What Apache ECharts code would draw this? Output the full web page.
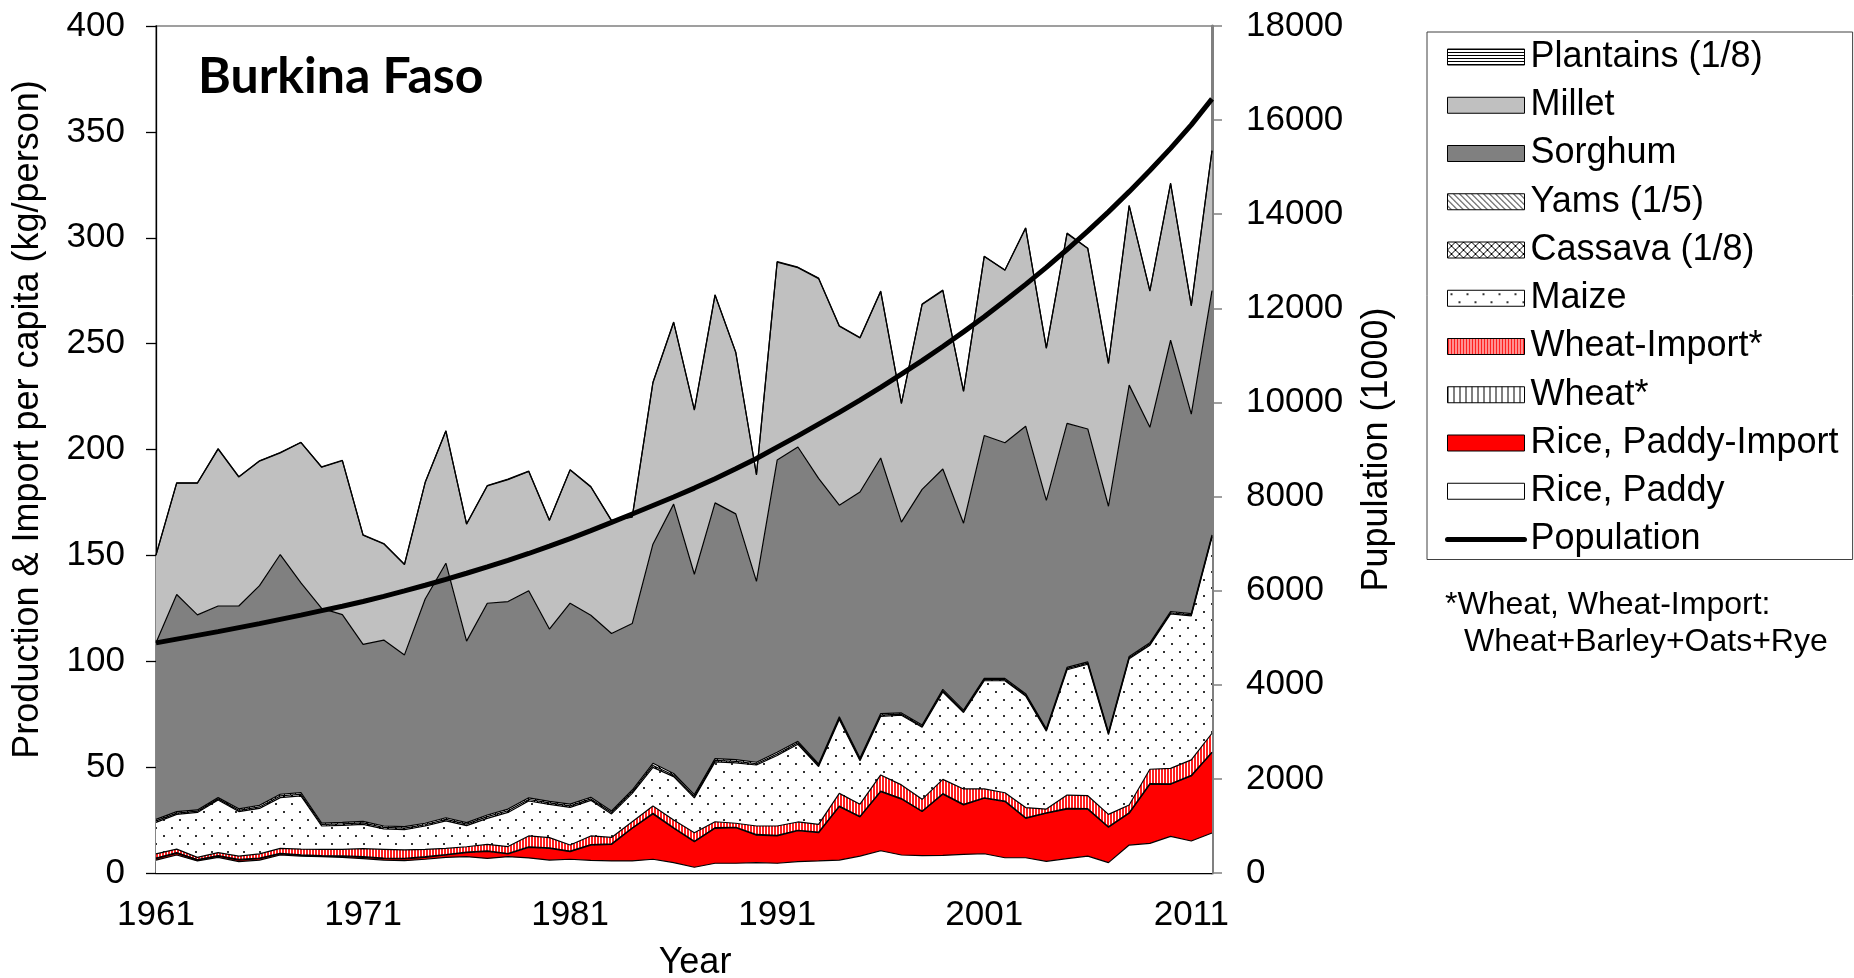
<!DOCTYPE html>
<html>
<head>
<meta charset="utf-8">
<script src="https://cdn.jsdelivr.net/npm/echarts@6/dist/echarts.min.js"></script>
<style>
html,body{margin:0;padding:0;background:#fff;}
#chart{width:1854px;height:978px;}
</style>
</head>
<body>
<div id="chart"></div>
<script>
const years = ['1961','1962','1963','1964','1965','1966','1967','1968','1969','1970',
'1971','1972','1973','1974','1975','1976','1977','1978','1979','1980',
'1981','1982','1983','1984','1985','1986','1987','1988','1989','1990',
'1991','1992','1993','1994','1995','1996','1997','1998','1999','2000',
'2001','2002','2003','2004','2005','2006','2007','2008','2009','2010',
'2011','2012'];

const ricePaddy = [6.1,8.5,5.7,7.4,5.4,6.1,8.5,8.0,7.7,7.4, 6.8,6.1,5.8,6.5,7.4,7.7,6.9,7.7,7.1,6.1,
6.5,6.0,5.7,5.7,6.5,4.9,2.7,4.6,4.6,4.9, 4.6,5.4,5.7,6.1,8.0,10.5,8.5,8.2,8.3,8.8,
9.1,7.2,7.2,5.5,6.8,8.0,4.9,13.2,14.0,17.3, 15.1,18.9];

const riceImport = [0.7,0.8,0.4,0.6,0.7,0.7,0.5,0.3,0.3,0.4, 0.6,0.7,0.8,0.9,1.1,1.9,3.3,1.3,5.0,5.5,
3.6,7.1,7.8,15.4,21.4,16.2,12.1,16.5,16.8,13.0, 12.9,14.6,13.3,25.2,18.5,27.9,26.4,20.8,28.9,23.3,
26.2,26.5,18.6,22.7,23.4,22.1,16.7,15.0,27.9,24.6, 30.7,37.9];

const wheat = [0.2,0.3,0.2,0.2,0.3,0.2,0.3,0.3,0.2,0.3, 0.3,0.2,0.3,0.3,0.2,0.3,0.3,0.2,0.3,0.3,
0.2,0.3,0.3,0.2,0.3,0.3,0.2,0.3,0.2,0.3, 0.3,0.2,0.3,0.3,0.2,0.3,0.3,0.2,0.3,0.3,
0.2,0.3,0.3,0.2,0.3,0.3,0.2,0.3,0.3,0.2, 0.3,0.3];

const wheatImport = [2.0,1.7,1.1,1.4,1.6,2.0,2.3,2.7,3.0,3.1, 3.8,4.2,4.0,3.5,2.9,2.5,3.0,3.3,5.1,4.8,
2.9,4.1,3.0,2.9,3.4,3.6,4.0,2.8,1.9,4.0, 4.4,3.9,3.7,6.0,5.8,7.6,6.4,5.6,6.7,7.3,
4.2,3.9,4.8,1.8,6.3,6.1,5.9,3.6,6.8,7.3, 7.3,8.9];

const maize = [14.9,16.4,21.2,24.9,21.0,21.5,24.0,25.1,11.0,11.3, 11.5,9.6,9.6,11.0,13.0,10.0,12.3,16.1,16.5,15.7,
17.8,16.8,11.1,13.4,18.3,20.5,16.5,28.3,28.5,28.8, 33.3,36.7,27.3,34.9,20.5,27.7,32.9,34.0,41.3,36.1,
51.1,52.9,52.7,36.8,59.2,62.1,37.7,69.1,58.6,73.0, 68.0,92.6];

const cassava = [0.7,0.6,0.6,0.5,0.6,0.7,0.8,0.8,0.7,0.7, 0.7,0.7,0.7,0.6,0.7,0.7,0.8,0.8,0.7,0.7,
0.7,0.7,0.7,0.8,0.9,0.7,0.7,0.7,0.7,0.6, 0.7,0.7,0.6,0.6,0.6,0.6,0.5,0.5,0.6,0.5,
0.5,0.5,0.5,0.5,0.5,0.5,0.5,0.5,0.5,0.5, 0.5,0.5];

const yams = [0.7,0.7,0.6,0.6,0.7,0.8,0.8,0.8,0.7,0.7, 0.7,0.7,0.7,0.7,0.8,0.7,0.8,0.8,0.8,0.7,
0.8,0.8,0.7,0.8,1.0,0.8,0.8,0.8,0.8,0.7, 0.8,0.7,0.6,0.7,0.7,0.7,0.6,0.6,0.6,0.6,
0.6,0.6,0.6,0.6,0.6,0.6,0.6,0.6,0.6,0.6, 0.6,0.6];

const sorghum = [83.4,102.5,92.1,90.5,95.8,103.7,113.2,99.0,101.4,98.1, 83.6,87.8,81.1,105.9,120.2,85.7,100.0,98.0,97.8,81.4,
94.9,85.9,83.8,78.6,103.5,127.2,104.1,120.8,116.1,85.4, 138.0,139.0,134.9,99.9,125.6,120.7,90.1,111.3,104.1,88.3,
114.7,111.3,126.3,107.9,115.2,110.0,106.7,128.1,101.8,128.1, 94.2,115.3];

const millet = [41.3,52.6,62.2,74.1,60.9,58.8,48.0,66.3,66.6,72.7, 51.5,45.4,42.6,55.0,62.4,55.2,55.4,57.6,56.3,51.3,
62.9,60.6,53.2,50.3,76.2,85.8,77.5,98.1,76.2,50.3, 93.5,84.7,94.3,84.5,72.8,78.6,56.0,87.3,84.2,62.2,
84.5,81.4,93.5,71.8,89.6,85.2,67.4,84.7,64.3,73.9, 51.1,66.0];

const plantains = [0.2,0.2,0.1,0.2,0.2,0.2,0.2,0.1,0.2,0.2, 0.2,0.2,0.2,0.1,0.2,0.2,0.2,0.2,0.2,0.2,
0.2,0.2,0.2,0.2,0.3,0.2,0.2,0.2,0.2,0.2, 0.2,0.2,0.3,0.2,0.2,0.2,0.2,0.2,0.3,0.2,
0.2,0.2,0.2,0.2,0.3,0.2,0.2,0.2,0.2,0.3, 0.2,0.2];

const population = [4890,4970,5050,5130,5215,5300,5390,5480,5575,5670,
5770,5880,5995,6115,6240,6370,6505,6645,6790,6945,
7105,7275,7450,7630,7810,7990,8180,8380,8590,8810,
9050,9290,9540,9790,10050,10320,10600,10890,11190,11500,
11820,12160,12510,12870,13250,13640,14050,14480,14930,15400,
15900,16450];

const leftTicks = {min:0, max:400, interval:50};
const rightTicks = {min:0, max:18000, interval:2000};

// ---- fill patterns (styles only) ----
function pat(w, h, draw) {
  const c = document.createElement('canvas');
  c.width = w; c.height = h;
  const g = c.getContext('2d');
  g.fillStyle = '#fff'; g.fillRect(0, 0, w, h);
  draw(g);
  return {image: c, repeat: 'repeat'};
}
const plantPat = pat(4, 3, g => { g.fillStyle = '#000'; g.fillRect(0, 0, 4, 1); });
const maizePat = pat(16, 16, g => { g.fillStyle = '#333'; g.fillRect(3, 3, 2, 2); g.fillRect(11, 11, 2, 2); });
const wheatImpPat = pat(3, 1, g => { g.fillStyle = '#ff2020'; g.fillRect(0, 0, 2, 1); });
const wheatPat = pat(6, 1, g => { g.fillStyle = '#000'; g.fillRect(0, 0, 1, 1); });
const yamsPat = pat(6, 6, g => { g.fillStyle = '#000'; for (let i = 0; i < 6; i++) g.fillRect(i, i, 1, 1); });
const cassPat = pat(8, 8, g => { g.fillStyle = '#000'; for (let i = 0; i < 8; i++) { g.fillRect(i, i, 1, 1); g.fillRect(7 - i, i, 1, 1); } });

const FONT = 'Liberation Sans, Arial, sans-serif';

const layers = [
  {name: 'Rice, Paddy', data: ricePaddy, fill: '#ffffff'},
  {name: 'Rice, Paddy-Import', data: riceImport, fill: '#ff0000'},
  {name: 'Wheat*', data: wheat, fill: wheatPat},
  {name: 'Wheat-Import*', data: wheatImport, fill: wheatImpPat},
  {name: 'Maize', data: maize, fill: maizePat},
  {name: 'Cassava (1/8)', data: cassava, fill: cassPat},
  {name: 'Yams (1/5)', data: yams, fill: yamsPat},
  {name: 'Sorghum', data: sorghum, fill: '#808080'},
  {name: 'Millet', data: millet, fill: '#c0c0c0'},
  {name: 'Plantains (1/8)', data: plantains, fill: plantPat}
];

const series = layers.map(l => ({
  name: l.name, type: 'line', stack: 'total', yAxisIndex: 0,
  data: l.data, symbol: 'none', showSymbol: false,
  lineStyle: {color: '#000', width: 1.2},
  areaStyle: {color: l.fill, opacity: 1},
  itemStyle: {color: l.fill},
  emphasis: {disabled: true}, z: 2
}));
series.push({
  name: 'Population', type: 'line', yAxisIndex: 1, data: population,
  symbol: 'none', showSymbol: false,
  lineStyle: {color: '#000', width: 5}, itemStyle: {color: '#000'},
  emphasis: {disabled: true}, z: 5
});

const legendOrder = ['Plantains (1/8)','Millet','Sorghum','Yams (1/5)','Cassava (1/8)','Maize','Wheat-Import*','Wheat*','Rice, Paddy-Import','Rice, Paddy'];
const legendData = legendOrder.map(n => {
  const l = layers.find(x => x.name === n);
  return {name: n, icon: 'rect', itemStyle: {color: l.fill, borderColor: '#000', borderWidth: 1}};
});
legendData.push({name: 'Population', itemStyle: {opacity: 0}, lineStyle: {color: '#000', width: 5, cap: 'round'}});

const chart = echarts.init(document.getElementById('chart'), null, {renderer: 'canvas'});
chart.setOption({
  animation: false,
  backgroundColor: '#fff',
  title: {
    text: 'Burkina Faso', left: 198, top: 52, padding: 0,
    textStyle: {fontFamily: 'Lato, Liberation Sans, sans-serif', fontWeight: 'bold', fontSize: 50, color: '#000'}
  },
  legend: {
    orient: 'vertical', left: 1427, top: 32,
    padding: [7, 14, 2, 18],
    itemWidth: 77, itemHeight: 16, itemGap: 12.25,
    borderColor: '#404040', borderWidth: 1,
    textStyle: {fontFamily: FONT, fontSize: 36, lineHeight: 36, color: '#000', padding: [0, 0, 0, 1]},
    selectedMode: false,
    data: legendData
  },
  grid: {left: 156, right: 642, top: 26, bottom: 105, show: true, borderColor: '#808080', borderWidth: 1.5,
         outerBoundsMode: 'none', containLabel: false},
  xAxis: {
    type: 'category', data: years, boundaryGap: false,
    axisLine: {lineStyle: {color: '#000', width: 1.3}},
    axisTick: {inside: true, length: 11, interval: 4, lineStyle: {color: '#000', width: 1.3}},
    axisLabel: {interval: 9, fontSize: 35, color: '#000', fontFamily: FONT, margin: 25},
    splitLine: {show: false},
    name: 'Year', nameLocation: 'middle', nameGap: 72,
    nameTextStyle: {fontSize: 36, color: '#000', fontFamily: FONT, padding: [0, 0, 0, 22]}
  },
  yAxis: [{
    type: 'value', position: 'left', min: leftTicks.min, max: leftTicks.max, interval: leftTicks.interval,
    axisLine: {show: true, lineStyle: {color: '#000', width: 1.3}},
    axisTick: {show: true, length: 10, lineStyle: {color: '#000', width: 1.3}},
    axisLabel: {fontSize: 35, color: '#000', fontFamily: FONT, margin: 31},
    splitLine: {show: false},
    name: 'Production & Import per capita (kg/person)', nameLocation: 'middle', nameGap: 110,
    nameTextStyle: {fontSize: 36, color: '#000', fontFamily: FONT, padding: [0, 0, 0, 60]}
  }, {
    type: 'value', position: 'right', min: rightTicks.min, max: rightTicks.max, interval: rightTicks.interval,
    axisLine: {show: true, lineStyle: {color: '#808080', width: 3}},
    axisTick: {show: true, length: 10, lineStyle: {color: '#808080', width: 1.5}},
    axisLabel: {fontSize: 35, color: '#000', fontFamily: FONT, margin: 34, formatter: v => String(v)},
    splitLine: {show: false},
    name: 'Pupulation (1000)', nameLocation: 'middle', nameGap: 147,
    nameTextStyle: {fontSize: 36, color: '#000', fontFamily: FONT}
  }],
  graphic: [
    {type: 'text', left: 1445, top: 589, style: {text: '*Wheat, Wheat-Import:', font: '32px ' + FONT, fill: '#000'}},
    {type: 'text', left: 1464, top: 626, style: {text: 'Wheat+Barley+Oats+Rye', font: '32px ' + FONT, fill: '#000'}}
  ],
  series: series
});
</script>
</body>
</html>
